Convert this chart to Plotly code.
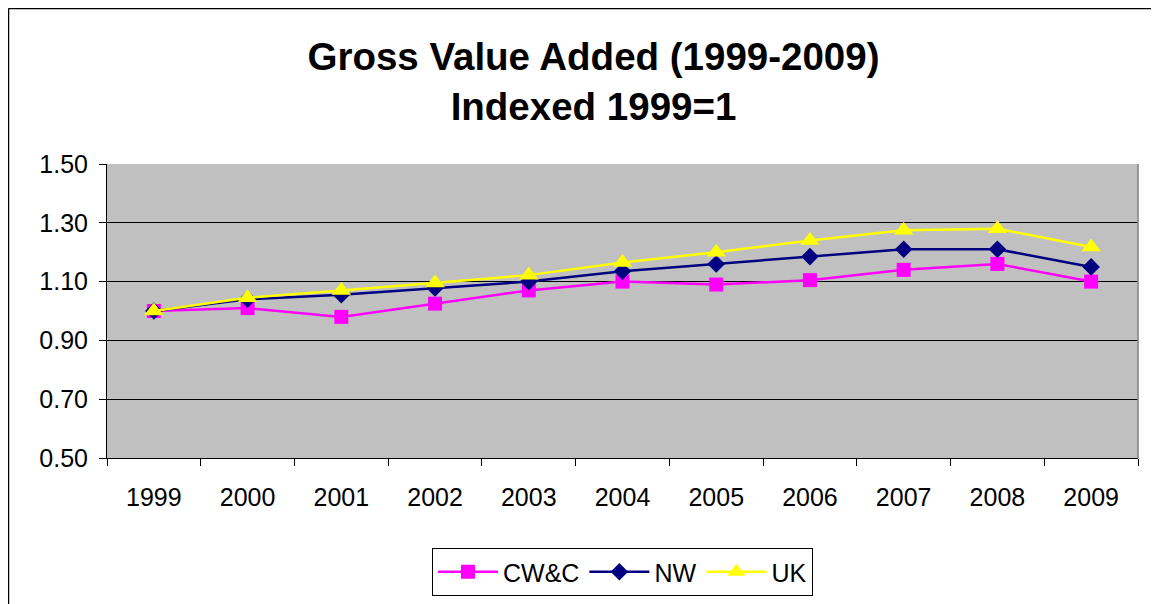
import plotly.graph_objects as go

years = ["1999", "2000", "2001", "2002", "2003", "2004", "2005", "2006", "2007", "2008", "2009"]
cwc = [1.00, 1.01, 0.98, 1.025, 1.07, 1.10, 1.09, 1.105, 1.14, 1.16, 1.10]
nw = [1.00, 1.04, 1.055, 1.078, 1.10, 1.135, 1.16, 1.185, 1.21, 1.21, 1.15]
uk = [1.00, 1.045, 1.07, 1.095, 1.122, 1.165, 1.20, 1.24, 1.275, 1.28, 1.218]
y_ticks = [0.5, 0.7, 0.9, 1.1, 1.3, 1.5]

FONT = "Liberation Sans, Arial, sans-serif"

fig = go.Figure()
fig.add_trace(go.Scatter(x=years, y=cwc, name="CW&C", mode="lines+markers",
                         line=dict(color="#FF00FF", width=2.5),
                         marker=dict(symbol="square", size=14, color="#FF00FF")))
fig.add_trace(go.Scatter(x=years, y=nw, name="NW", mode="lines+markers",
                         line=dict(color="#000080", width=2.5),
                         marker=dict(symbol="diamond", size=13.5, color="#000080")))
fig.add_trace(go.Scatter(x=years, y=uk, name="UK", mode="lines+markers",
                         line=dict(color="#FFFF00", width=2.5),
                         marker=dict(symbol="triangle-up", size=17, color="#FFFF00")))

# figure coordinates (page is offset by 8px body margin)
OFF = 8
L, R, T, B = 107 - OFF, 1138 - OFF, 164 - OFF, 458 - OFF
W, H = R - L, B - T

fig.update_layout(
    width=1159, height=604,
    margin=dict(l=L, r=1159 - R, t=T, b=604 - B, autoexpand=False),
    paper_bgcolor="white",
    plot_bgcolor="#C0C0C0",
    font=dict(family=FONT, color="black", size=25),
    title=dict(text="<b>Gross Value Added (1999-2009)<br>Indexed 1999=1</b>",
               x=(593.5 - OFF) / 1159, xanchor="center", y=1 - 62 / 604, yanchor="top",
               font=dict(family=FONT, size=38.5, color="black")),
    showlegend=True,
    legend=dict(orientation="h", x=0.5, xanchor="center",
                y=(B - (548 - OFF)) / H, yanchor="top",
                bordercolor="black", borderwidth=1, bgcolor="white",
                font=dict(family=FONT, size=25), itemwidth=60,
                tracegroupgap=0, valign="middle"),
    xaxis=dict(type="category", tickson="boundaries", ticks="outside", ticklen=7,
               tickcolor="black", showline=True, linecolor="black", linewidth=1,
               showgrid=False, ticklabelstandoff=17, range=[-0.5, 10.5],
               tickfont=dict(family=FONT, size=25)),
    yaxis=dict(range=[0.5, 1.5], tickvals=y_ticks, tickformat=".2f",
               ticks="outside", ticklen=7, tickcolor="black",
               showline=True, linecolor="black", linewidth=1,
               showgrid=True, gridcolor="black", gridwidth=1,
               zeroline=False, ticklabelstandoff=6,
               tickfont=dict(family=FONT, size=25)),
    shapes=[
        dict(type="line", xref="paper", yref="paper", x0=1, x1=1, y0=0, y1=1,
             line=dict(color="#808080", width=1.5)),
        dict(type="line", xref="paper", yref="paper",
             x0=(0.5 - L) / W, x1=(1170 - L) / W, y0=(B - 0.5) / H, y1=(B - 0.5) / H,
             line=dict(color="black", width=1.5)),
        dict(type="line", xref="paper", yref="paper",
             x0=(0.5 - L) / W, x1=(0.5 - L) / W, y0=(B - 0.5) / H, y1=(B - 610) / H,
             line=dict(color="black", width=1.5)),
    ],
)

fig.write_html("out.html")
